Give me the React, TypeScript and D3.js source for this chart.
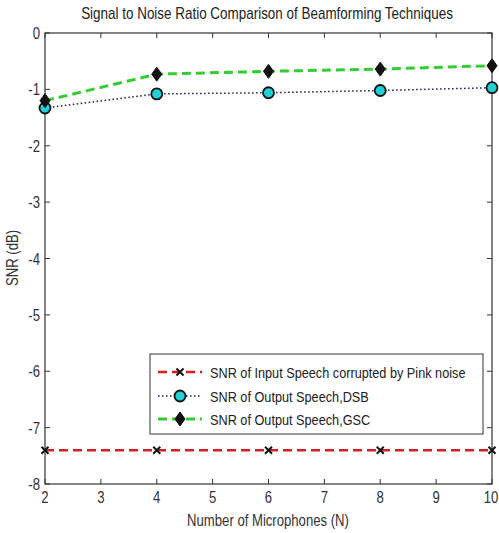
import React from "react";
import * as d3 from "d3";

const micCounts = [2, 4, 6, 8, 10];
const inputSNR = [-7.4, -7.4, -7.4, -7.4, -7.4];
const dsbSNR = [-1.33, -1.08, -1.06, -1.02, -0.97];
const gscSNR = [-1.2, -0.73, -0.68, -0.64, -0.58];
const xTicks = [2, 3, 4, 5, 6, 7, 8, 9, 10];
const yTicks = [0, -1, -2, -3, -4, -5, -6, -7, -8];
const legendLabels = [
  "SNR of Input Speech corrupted by Pink noise",
  "SNR of Output Speech,DSB",
  "SNR of Output Speech,GSC",
];

const W = 499, H = 533;
const L = 45, R = 492, T = 33, B = 484;
const font = "'Liberation Sans', Arial, sans-serif";
const SX = 0.82;

function NT({ x, y, anchor = "start", size = 16, rotate = 0, fill = "#333", children }: any) {
  return (
    <text
      transform={`translate(${x},${y}) rotate(${rotate}) scale(${SX},1)`}
      textAnchor={anchor}
      fontFamily={font}
      fontSize={size}
      fill={fill}
    >
      {children}
    </text>
  );
}

export default function App() {
  const x = d3.scaleLinear().domain([2, 10]).range([L, R]);
  const y = d3.scaleLinear().domain([-8, 0]).range([B, T]);
  const line = d3.line<[number, number]>().x(d => x(d[0])).y(d => y(d[1]));
  const pts = (vals: number[]) => micCounts.map((m, i) => [m, vals[i]] as [number, number]);

  const diamond = (cx: number, cy: number, s = 7) =>
    `M${cx},${cy - s}L${cx + s * 0.72},${cy}L${cx},${cy + s}L${cx - s * 0.72},${cy}Z`;
  const xMark = (cx: number, cy: number, s = 3.5) =>
    `M${cx - s},${cy - s}L${cx + s},${cy + s}M${cx - s},${cy + s}L${cx + s},${cy - s}`;

  const legX = 150, legY = 354, legW = 333, legH = 80;
  const rowY = [372, 396, 419];

  return (
    <svg width={W} height={H} style={{ display: "block", position: "absolute", left: 0, top: 0 }}>
      <rect width={W} height={H} fill="#fff" />
      <NT x={267} y={19} anchor="middle" size={16.4} fill="#222">
        Signal to Noise Ratio Comparison of Beamforming Techniques
      </NT>
      {/* axes box */}
      <rect x={L} y={T} width={R - L} height={B - T} fill="none" stroke="#333" strokeWidth={1.2} />
      {xTicks.map(t => (
        <g key={"x" + t}>
          <line x1={x(t)} x2={x(t)} y1={B} y2={B - 5} stroke="#333" />
          <line x1={x(t)} x2={x(t)} y1={T} y2={T + 5} stroke="#333" />
          <NT x={t === 10 ? x(t) - 1 : x(t)} y={503} anchor="middle" size={16}>{t}</NT>
        </g>
      ))}
      {yTicks.map(t => (
        <g key={"y" + t}>
          <line x1={L} x2={L + 5} y1={y(t)} y2={y(t)} stroke="#333" />
          <line x1={R} x2={R - 5} y1={y(t)} y2={y(t)} stroke="#333" />
          <NT x={40} y={y(t) + 6} anchor="end" size={16}>{t}</NT>
        </g>
      ))}
      <NT x={268} y={526} anchor="middle" size={16}>Number of Microphones (N)</NT>
      <NT x={18} y={258} anchor="middle" size={16} rotate={-90}>SNR (dB)</NT>

      {/* series */}
      <path d={line(pts(inputSNR))!} fill="none" stroke="#d62020" strokeWidth={2.5} strokeDasharray="9,5" />
      <path d={line(pts(dsbSNR))!} fill="none" stroke="#1a1a5a" strokeWidth={1.5} strokeDasharray="1.5,2.5" />
      <path d={line(pts(gscSNR))!} fill="none" stroke="#33cc33" strokeWidth={3} strokeDasharray="9,5" />
      {pts(inputSNR).map((p, i) => (
        <path key={"xi" + i} d={xMark(x(p[0]), y(p[1]))} stroke="#111" strokeWidth={2} />
      ))}
      {pts(dsbSNR).map((p, i) => (
        <circle key={"c" + i} cx={x(p[0])} cy={y(p[1])} r={5.5} fill="#22d0d8" stroke="#111" strokeWidth={1.8} />
      ))}
      {pts(gscSNR).map((p, i) => (
        <path key={"d" + i} d={diamond(x(p[0]), y(p[1]))} fill="#111" stroke="#111" />
      ))}

      {/* legend */}
      <rect x={legX} y={legY} width={legW} height={legH} fill="#fff" stroke="#333" strokeWidth={1} />
      <line x1={158} x2={202} y1={rowY[0]} y2={rowY[0]} stroke="#d62020" strokeWidth={2.5} strokeDasharray="9,5" />
      <path d={xMark(180, rowY[0])} stroke="#111" strokeWidth={2} />
      <line x1={158} x2={202} y1={rowY[1]} y2={rowY[1]} stroke="#1a1a5a" strokeWidth={1.5} strokeDasharray="1.5,2.5" />
      <circle cx={180} cy={rowY[1]} r={5.5} fill="#22d0d8" stroke="#111" strokeWidth={1.8} />
      <line x1={158} x2={202} y1={rowY[2]} y2={rowY[2]} stroke="#33cc33" strokeWidth={3} strokeDasharray="9,5" />
      <path d={diamond(180, rowY[2])} fill="#111" stroke="#111" />
      {legendLabels.map((l, i) => (
        <NT key={l} x={210} y={rowY[i] + 5.5} size={15.5} fill="#222">{l}</NT>
      ))}
    </svg>
  );
}
